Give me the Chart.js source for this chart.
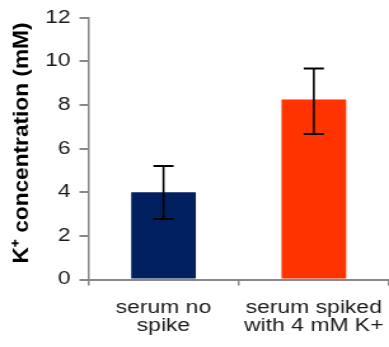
<!DOCTYPE html>
<html>
<head>
<meta charset="utf-8">
<script src="https://cdn.jsdelivr.net/npm/chart.js@4"></script>
<style>
  body { margin: 0; background: #fff; overflow: hidden; }
  #myChart { transform: scaleX(1.2712); transform-origin: 0 0; }
</style>
</head>
<body>
<canvas id="myChart" width="306" height="347"></canvas>
<script>
// データ
const categories = [["serum no", "spike"], ["serum spiked", "with 4 mM K+"]]
const means = [4.0, 8.25]
const errTop = [5.2, 9.68]
const errBottom = [2.77, 6.67]
const yTicks = [0, 2, 4, 6, 8, 10, 12]
const barColors = ["#002060", "#ff3300"]
const yTitle = "K\u207A concentration (mM)"

const axisGray = "#888888"

// error bars
const errorBars = {
  id: "errorBars",
  afterDatasetsDraw(chart) {
    const ctx = chart.ctx
    const xs = chart.scales.x
    const ys = chart.scales.y
    ctx.save()
    ctx.strokeStyle = "#000"
    means.forEach((m, i) => {
      let x = xs.getPixelForValue(i)
      let yt = ys.getPixelForValue(errTop[i])
      let yb = ys.getPixelForValue(errBottom[i])
      ctx.lineWidth = 1.6
      ctx.beginPath()
      ctx.moveTo(x, yt)
      ctx.lineTo(x, yb)
      ctx.stroke()
      ctx.lineWidth = 2
      ctx.beginPath()
      ctx.moveTo(x - 7.9, yt)
      ctx.lineTo(x + 7.9, yt)
      ctx.moveTo(x - 7.9, yb)
      ctx.lineTo(x + 7.9, yb)
      ctx.stroke()
    })
    ctx.restore()
  },
}

// y axis title (drawn by hand so it can be stretched along its length)
const yTitlePlugin = {
  id: "yTitlePlugin",
  afterDraw(chart) {
    const ctx = chart.ctx
    ctx.save()
    ctx.translate(17, 143)
    ctx.rotate(-Math.PI / 2)
    ctx.font = "bold 17px 'Liberation Sans', Arial, sans-serif"
    ctx.fillStyle = "#000"
    ctx.textAlign = "center"
    ctx.textBaseline = "middle"
    let w = ctx.measureText(yTitle).width
    ctx.scale(241 / w, 1)
    ctx.fillText(yTitle, 0, 0)
    ctx.restore()
  },
}

const ctx = document.getElementById("myChart")

new Chart(ctx, {
  type: "bar",
  data: {
    labels: categories,
    datasets: [
      {
        data: means,
        backgroundColor: barColors,
        borderWidth: 0,
        categoryPercentage: 1,
        barPercentage: 0.43,
      },
    ],
  },
  options: {
    responsive: false,
    animation: false,
    events: [],
    layout: { padding: { top: 5, left: 0, right: 0, bottom: 0 } },
    plugins: {
      legend: { display: false },
      tooltip: { enabled: false },
    },
    scales: {
      x: {
        afterFit: (scale) => {
          scale.height = 67.5
          scale.paddingLeft = 0
          scale.paddingRight = 0
        },
        grid: {
          offset: true,
          drawOnChartArea: false,
          tickLength: 6,
          color: axisGray,
          lineWidth: 1.5,
        },
        border: { color: axisGray, width: 2 },
        ticks: {
          font: { family: "'Liberation Sans', Arial, sans-serif", size: 18, lineHeight: 1.0 },
          color: "#1a1a1a",
          padding: 14,
          maxRotation: 0,
          autoSkip: false,
        },
      },
      y: {
        min: 0,
        max: 12,
        afterFit: (scale) => { scale.width = 69.5 },
        afterBuildTicks: (scale) => {
          scale.ticks = yTicks.map((v) => ({ value: v }))
        },
        grid: {
          drawOnChartArea: false,
          tickLength: 7,
          color: axisGray,
          lineWidth: 2,
        },
        border: { color: axisGray, width: 1.5 },
        ticks: {
          font: { family: "'Liberation Sans', Arial, sans-serif", size: 18 },
          color: "#1a1a1a",
          padding: 7,
        },
      },
    },
  },
  plugins: [errorBars, yTitlePlugin],
})
</script>
</body>
</html>
